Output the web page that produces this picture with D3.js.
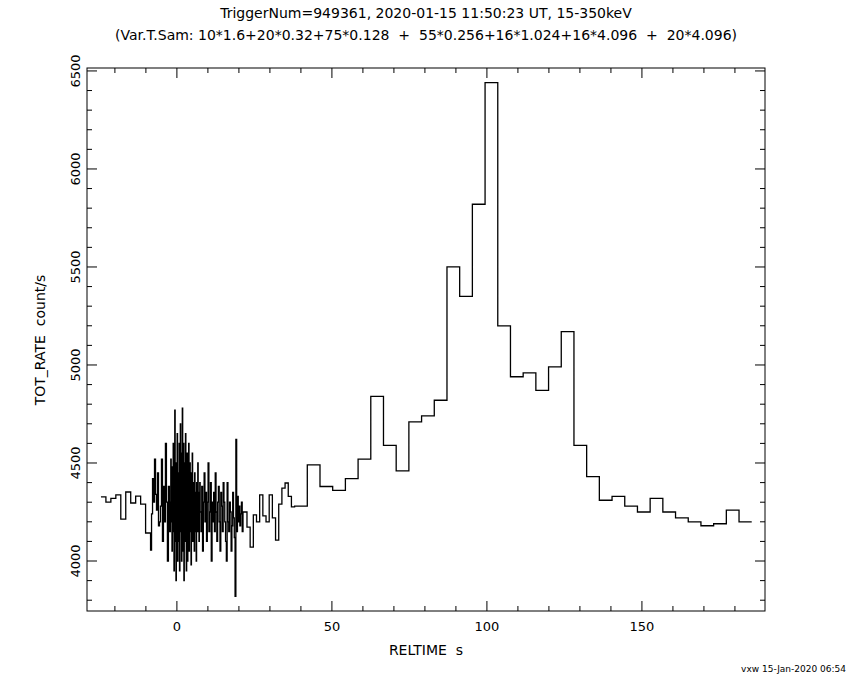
<!DOCTYPE html>
<html><head><meta charset="utf-8">
<script src="https://cdn.jsdelivr.net/npm/d3@7"></script>
<style>body{margin:0;background:#fff}text{font-family:"DejaVu Sans",sans-serif;fill:#000;white-space:pre}</style>
</head><body><svg id="c" width="850" height="680"></svg>
<script>
// bin groups: [count, width]
let segs = [[10,1.6],[20,0.32],[75,0.128],[55,0.256],[16,1.024],[16,4.096],[20,4.096]];
let t0 = -24.5;
let rates = [
 4327,4300,4320,4337,4214,4352,4296,4331,4290,4143,
 4056,4240,4420,4300,4520,4340,4260,4450,4180,4200,4280,4520,4100,4380,4200,4600,4300,4000,4380,4150,
 4300,4520,4200,4480,4050,4380,4150,4600,4250,3950,4450,4770,4100,4350,3900,4500,4200,4650,4000,4300,
 4450,4100,4600,3950,4250,4700,4150,4400,4000,4550,4780,4050,4300,4600,3900,4200,4500,4100,4650,4250,
 3950,4350,4550,4000,4400,4200,4600,4050,4300,4500,4150,4450,3980,4350,4250,4550,4100,4400,4200,4300,
 4050,4450,4150,4350,4250,4000,4400,4300,4150,4500,4200,4350,4100,4280,4400,
 4250,4150,4380,4050,4300,4450,4200,4350,4100,4300,4500,4150,4250,4400,4000,4300,4200,4350,4150,4450,
 4250,4100,4300,4380,4200,4050,4350,4280,4150,4400,4300,4200,4100,4000,4400,4200,4150,4300,4250,4050,
 4180,4350,4220,4120,3820,4620,4150,4330,4200,4280,4180,4240,4300,4150,4250,
 4250,4173,4071,4235,4200,4337,4230,4200,4337,4220,4107,4290,4372,4398,4330,4276,
 4280,4490,4380,4360,4420,4520,4840,4590,4460,4710,4740,4820,5500,5350,5820,6440,
 5200,4940,4960,4870,4990,5170,4590,4430,4310,4330,4280,4250,4320,4250,4220,4200,4180,4190,4260,4200
];
let xTicks = [0,50,100,150];
let yTicks = [4000,4500,5000,5500,6000,6500];

// bin edges from the sampling scheme
let edges = [t0];
segs.forEach(([n,w]) => { for (let i=0;i<n;i++) edges.push(edges[edges.length-1]+w); });
let pts = rates.map((r,i) => [edges[i], r]);
pts.push([edges[rates.length], rates[rates.length-1]]);

let L = 87, R = 765, T = 68, B = 611;
let x = d3.scaleLinear().domain([-29, 189.7]).range([L, R]);
let y = d3.scaleLinear().domain([3745, 6515]).range([B, T]);
let svg = d3.select("#c");

svg.append("rect").attr("x",L).attr("y",T).attr("width",R-L).attr("height",B-T)
  .attr("fill","none").attr("stroke","#000").attr("stroke-width",1);

let g = svg.append("g").attr("stroke","#000").attr("stroke-width",1);
d3.range(-20,190,10).forEach(v => {
  let big = v % 50 === 0, len = big ? 10 : 5;
  g.append("line").attr("x1",x(v)).attr("x2",x(v)).attr("y1",B).attr("y2",B-len);
  g.append("line").attr("x1",x(v)).attr("x2",x(v)).attr("y1",T).attr("y2",T+len);
});
d3.range(3800,6600,100).forEach(v => {
  let big = v % 500 === 0, len = big ? 10 : 5;
  g.append("line").attr("y1",y(v)).attr("y2",y(v)).attr("x1",L).attr("x2",L+len);
  g.append("line").attr("y1",y(v)).attr("y2",y(v)).attr("x1",R).attr("x2",R-len);
});

svg.selectAll(".xt").data(xTicks).join("text").attr("x",d=>x(d)).attr("y",B+20)
  .attr("text-anchor","middle").attr("font-size",13).text(d=>d);
svg.selectAll(".yt").data(yTicks).join("text")
  .attr("transform",d=>`translate(${L-7},${y(d)}) rotate(-90)`)
  .attr("text-anchor","middle").attr("font-size",13).text(d=>d);

svg.append("path").attr("d", d3.line().x(d=>x(d[0])).y(d=>y(d[1])).curve(d3.curveStepAfter)(pts))
  .attr("fill","none").attr("stroke","#000").attr("stroke-width",1.3);

svg.append("text").attr("x",426).attr("y",655).attr("text-anchor","middle").attr("font-size",14).text("RELTIME  s");
svg.append("text").attr("transform","translate(45,340) rotate(-90)").attr("text-anchor","middle")
  .attr("font-size",14).text("TOT_RATE  count/s");
svg.append("text").attr("x",426).attr("y",18).attr("text-anchor","middle").attr("font-size",14)
  .text("TriggerNum=949361, 2020-01-15 11:50:23 UT, 15-350keV");
svg.append("text").attr("x",426).attr("y",40).attr("text-anchor","middle").attr("font-size",14)
  .text("(Var.T.Sam: 10*1.6+20*0.32+75*0.128  +  55*0.256+16*1.024+16*4.096  +  20*4.096)");
svg.append("text").attr("x",846).attr("y",672).attr("text-anchor","end").attr("font-size",9)
  .text("vxw 15-Jan-2020 06:54");
</script></body></html>
